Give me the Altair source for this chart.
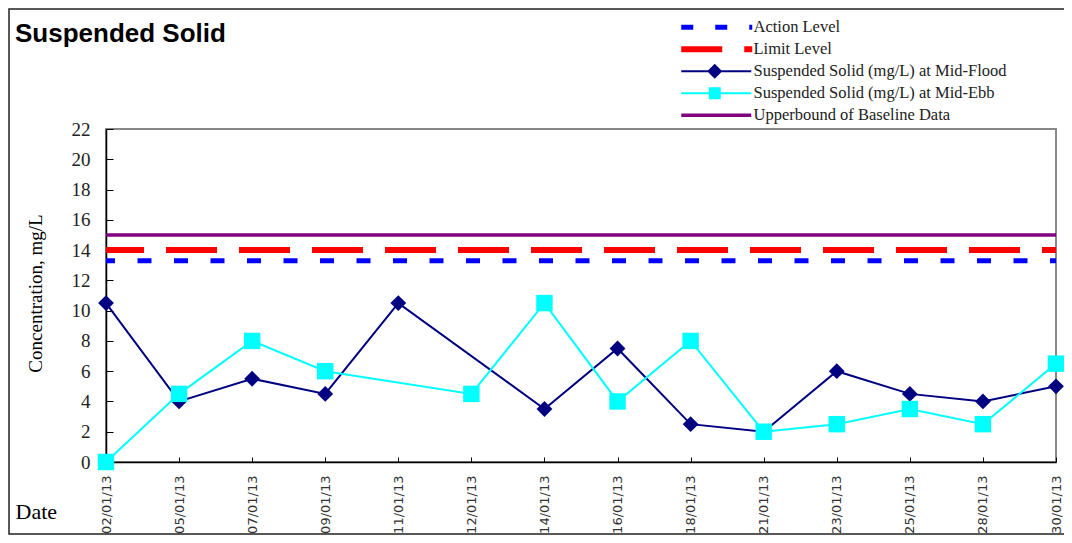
import json
import altair as alt
import pandas as pd

# ---------------- data ----------------
dates = ["02/01/13", "05/01/13", "07/01/13", "09/01/13", "11/01/13", "12/01/13", "14/01/13",
         "16/01/13", "18/01/13", "21/01/13", "23/01/13", "25/01/13", "28/01/13", "30/01/13"]
flood = [10.5, 4, 5.5, 4.5, 10.5, None, 3.5, 7.5, 2.5, 2, 6, 4.5, 4, 5]
ebb = [0, 4.5, 8, 6, None, 4.5, 10.5, 4, 8, 2, 2.5, 3.5, 2.5, 6.5]

FLOOD = "Suspended Solid (mg/L) at Mid-Flood"
EBB = "Suspended Solid (mg/L) at Mid-Ebb"
series_names = ["Action Level", "Limit Level", FLOOD, EBB, "Upperbound of Baseline Data"]
threshold_names = ["Action Level", "Limit Level", "Upperbound of Baseline Data"]
threshold_values = [13.3, 14, 15]
y_ticks = [0, 2, 4, 6, 8, 10, 12, 14, 16, 18, 20, 22]
chart_title = ["Suspended Solid"]

# ---------------- styles ----------------
series_colors = ["#0000FF", "#FF0000", "#000080", "#00FFFF", "#800080"]
# legend glyphs drawn as filled paths (unit = 5 px)
legend_paths = [
    "M-7,-0.5H-4.6V0.5H-7Z M-0.2,-0.5H2.2V0.5H-0.2Z M6.6,-0.5H7.2V0.5H6.6Z",
    "M-7,-0.6H1.2V0.6H-7Z M5.6,-0.6H7.2V0.6H5.6Z",
    "M-7,-0.2H7V0.2H-7Z M-0.3,-1.5L1.2,0L-0.3,1.5L-1.8,0Z",
    "M-7,-0.2H7V0.2H-7Z M-1.5,-1.2H0.9V1.2H-1.5Z",
    "M-7,-0.35H7V0.35H-7Z",
]
action_dash = [14, 22.5]
limit_dash = [51, 22]

W, H = 950, 333

rows = []
for d, v in zip(dates, flood):
    if v is not None:
        rows.append({"date": d, "series": FLOOD, "value": v})
for d, v in zip(dates, ebb):
    if v is not None:
        rows.append({"date": d, "series": EBB, "value": v})
df = pd.DataFrame(rows)

# each threshold level is a constant series over the sampling dates
thr = pd.DataFrame([{"series": n, "date": d, "value": v}
                    for n, v in zip(threshold_names, threshold_values) for d in dates])

x_scale = alt.Scale(type="point", domain=dates, padding=0)
y_scale = alt.Scale(domain=[0, 22], nice=False)

serif = "Liberation Serif"

main_x_axis = alt.Axis(orient="bottom", title="Date", titleX=-91, titleY=56, titleAlign="left",
                       titleAngle=0, titleBaseline="alphabetic", titleFont=serif, titleFontSize=22,
                       titleFontWeight="normal", titleColor="black",
                       labelAngle=270, labelFont="DejaVu Sans", labelFontSize=13, labelColor="#333",
                       labelPadding=13, ticks=False, domainColor="black", domainWidth=1.5, grid=False)
main_y_axis = alt.Axis(orient="left", values=y_ticks, title="Concentration, mg/L", titleX=-65,
                       titleY=164, titleAngle=270, titleAlign="center", titleBaseline="alphabetic",
                       titleFont=serif, titleFontSize=19, titleFontWeight="normal", titleColor="black",
                       labelFont=serif, labelFontSize=19, labelColor="#222", labelPadding=16,
                       ticks=False, domainColor="black", domainWidth=1.5, grid=False)
tick_x_axis = alt.Axis(orient="top", offset=-H, labels=False, domain=False, ticks=True, tickSize=5,
                       tickColor="black", tickWidth=1, title=None, grid=False)
tick_y_axis = alt.Axis(orient="right", offset=-W, values=y_ticks, labels=False, domain=False,
                       ticks=True, tickSize=7, tickColor="black", tickWidth=1, title=None, grid=False)

# threshold lines (drawn left to right; offsets set the dash phase)
thr_styles = {
    "Action Level": dict(color=series_colors[0], strokeWidth=5, strokeDash=action_dash,
                         strokeDashOffset=5),
    "Limit Level": dict(color=series_colors[1], strokeWidth=6, strokeDash=limit_dash,
                        strokeDashOffset=13),
    "Upperbound of Baseline Data": dict(color=series_colors[4], strokeWidth=3.5),
}
thr_lines = []
for name in ["Upperbound of Baseline Data", "Limit Level", "Action Level"]:
    thr_lines.append(
        alt.Chart(thr).transform_filter(alt.datum.series == name)
        .mark_line(**thr_styles[name])
        .encode(x=alt.X("date:O", scale=x_scale, axis=None),
                y=alt.Y("value:Q", scale=y_scale, axis=None))
    )

flood_line = alt.Chart(df).transform_filter(alt.datum.series == FLOOD).mark_line(
    color=series_colors[2], strokeWidth=2).encode(
    x=alt.X("date:O", scale=x_scale, axis=main_x_axis),
    y=alt.Y("value:Q", scale=y_scale, axis=main_y_axis),
)
ebb_line = alt.Chart(df).transform_filter(alt.datum.series == EBB).mark_line(
    color=series_colors[3], strokeWidth=2).encode(
    x=alt.X("date:O", scale=x_scale, axis=tick_x_axis),
    y=alt.Y("value:Q", scale=y_scale, axis=tick_y_axis),
)

legend = alt.Legend(
    orient="none", legendX=602, legendY=-110, title=None, padding=0, direction="vertical",
    symbolSize=100, symbolOffset=0, symbolOpacity=1, symbolStrokeWidth=0,
    symbolType={"expr": json.dumps(legend_paths) + "[datum.index]"},
    symbolFillColor={"expr": "scale('color', datum.value)"},
    labelOffset=29, labelFont=serif, labelFontSize=16.5, labelColor="#222", labelLimit=400,
    rowPadding=5,
)
color_enc = alt.Color("series:N", scale=alt.Scale(domain=series_names, range=series_colors),
                      legend=legend)

flood_pts = alt.Chart(df).transform_filter(alt.datum.series == FLOOD).mark_point(
    filled=True, size=250, opacity=1, shape="diamond").encode(
    x=alt.X("date:O", scale=x_scale, axis=None),
    y=alt.Y("value:Q", scale=y_scale, axis=None),
    color=color_enc,
)
ebb_pts = alt.Chart(df).transform_filter(alt.datum.series == EBB).mark_point(
    filled=True, size=270, opacity=1, shape="square").encode(
    x=alt.X("date:O", scale=x_scale, axis=None),
    y=alt.Y("value:Q", scale=y_scale, axis=None),
    color=color_enc,
)

frame = alt.Chart(pd.DataFrame({"k": [0]})).mark_rect(
    fill="white", fillOpacity=0, stroke="#222", strokeWidth=1.5).encode(
    x=alt.value(-97), x2=alt.value(W + 9), y=alt.value(-120), y2=alt.value(H + 72))

title = alt.Chart(pd.DataFrame({"t": chart_title})).mark_text(
    align="left", baseline="alphabetic", font="Liberation Sans", fontSize=26,
    fontWeight="bold", color="black").encode(
    text="t:N", x=alt.value(-91), y=alt.value(-87))

chart = alt.layer(frame, title, *thr_lines, flood_line, ebb_line, flood_pts, ebb_pts).resolve_axis(
    x="independent", y="independent"
).properties(
    width=W, height=H,
    autosize=alt.AutoSizeParams(type="none"),
    padding={"left": 98, "top": 121, "right": 8, "bottom": 73},
    background="white",
).configure_view(stroke="#888888", strokeWidth=2)

chart.save("out.html", embed_options={"renderer": "svg", "actions": False})
